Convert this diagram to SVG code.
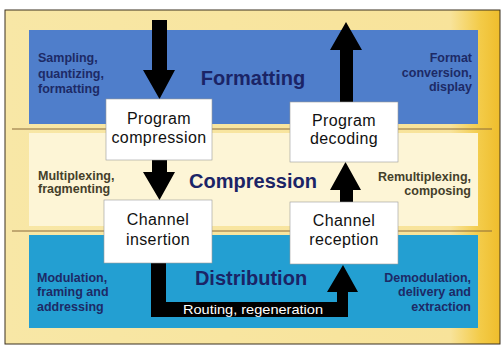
<svg xmlns="http://www.w3.org/2000/svg" width="501" height="346" viewBox="0 0 501 346">
<defs>
<linearGradient id="bg" x1="0" y1="0" x2="1" y2="0">
<stop offset="0" stop-color="#f8e7a6"/>
<stop offset="0.9" stop-color="#f8e39a"/>
<stop offset="0.96" stop-color="#f3cb48"/>
<stop offset="1" stop-color="#efbd2c"/>
</linearGradient>
<style>
.box{fill:#ffffff;stroke:#9a9a9a;stroke-width:0.6}
.bt{font-family:"Liberation Sans",Arial,sans-serif;font-size:16px;fill:#111;text-anchor:middle;letter-spacing:0.4px}
.title{font-family:"Liberation Sans",Arial,sans-serif;font-size:20px;font-weight:bold;fill:#1b2466;text-anchor:middle}
.side{font-family:"Liberation Sans",Arial,sans-serif;font-size:12.5px;font-weight:bold}
.navy{fill:#1d2a66}
.olive{fill:#44402a}
.r{text-anchor:end}
.arrow{fill:#000}
.sep{stroke:#8a6a3a;stroke-width:1}
</style>
</defs>
<rect x="5" y="10" width="495" height="334" fill="url(#bg)" stroke="#3a3020" stroke-width="1"/>
<rect x="29" y="30" width="449" height="94" fill="#4f7ecb"/>
<line class="sep" x1="12" y1="129" x2="492" y2="129"/>
<rect x="29" y="133" width="449" height="93" fill="#fdf5d6"/>
<line class="sep" x1="12" y1="231" x2="492" y2="231"/>
<rect x="29" y="235" width="449" height="93" fill="#239fd2"/>

<g id="labels">
<text class="title" x="253" y="85">Formatting</text>
<text class="title" x="253" y="188">Compression</text>
<text class="title" x="251" y="285">Distribution</text>
<text class="side navy" x="38" y="62">Sampling,</text>
<text class="side navy" x="38" y="78">quantizing,</text>
<text class="side navy" x="38" y="93">formatting</text>
<text class="side navy r" x="472" y="62">Format</text>
<text class="side navy r" x="472" y="77">conversion,</text>
<text class="side navy r" x="472" y="91">display</text>
<text class="side olive" x="38" y="180">Multiplexing,</text>
<text class="side olive" x="38" y="193">fragmenting</text>
<text class="side olive r" x="471" y="181">Remultiplexing,</text>
<text class="side olive r" x="471" y="195">composing</text>
<text class="side navy" x="37" y="282">Modulation,</text>
<text class="side navy" x="37" y="296">framing and</text>
<text class="side navy" x="37" y="311">addressing</text>
<text class="side navy r" x="471" y="282">Demodulation,</text>
<text class="side navy r" x="471" y="296">delivery and</text>
<text class="side navy r" x="471" y="311">extraction</text>
</g>

<g id="connectors">
<polygon class="arrow" points="152,20 167,20 167,70 175,70 159.5,99 143,70 152,70"/>
<polygon class="arrow" points="152,160 167,160 167,172 175,172 159.5,200 143,172 152,172"/>
<polygon class="arrow" points="340,102 353,102 353,50 362,50 346,22 330,50 340,50"/>
<polygon class="arrow" points="340,202 353,202 353,190 361,190 345.5,162 330,190 340,190"/>
<polygon class="arrow" points="151,263 166,263 166,302 337,302 337,292 327,292 343,265 358,292 348,292 348,317 151,317"/>
<text x="183" y="313.5" font-family="'Liberation Sans',Arial,sans-serif" font-size="13" fill="#fff" textLength="140" lengthAdjust="spacingAndGlyphs">Routing, regeneration</text>
</g>

<g id="program-compression">
<rect class="box" x="106" y="99" width="106" height="61"/>
<text class="bt" x="159" y="124">Program</text>
<text class="bt" x="159" y="143">compression</text>
</g>
<g id="program-decoding">
<rect class="box" x="290" y="102" width="108" height="60"/>
<text class="bt" x="344" y="126">Program</text>
<text class="bt" x="344" y="144">decoding</text>
</g>
<g id="channel-insertion">
<rect class="box" x="104" y="200" width="108" height="63"/>
<text class="bt" x="158" y="225">Channel</text>
<text class="bt" x="158" y="245">insertion</text>
</g>
<g id="channel-reception">
<rect class="box" x="290" y="202" width="108" height="62"/>
<text class="bt" x="344" y="226">Channel</text>
<text class="bt" x="344" y="245">reception</text>
</g>
</svg>
